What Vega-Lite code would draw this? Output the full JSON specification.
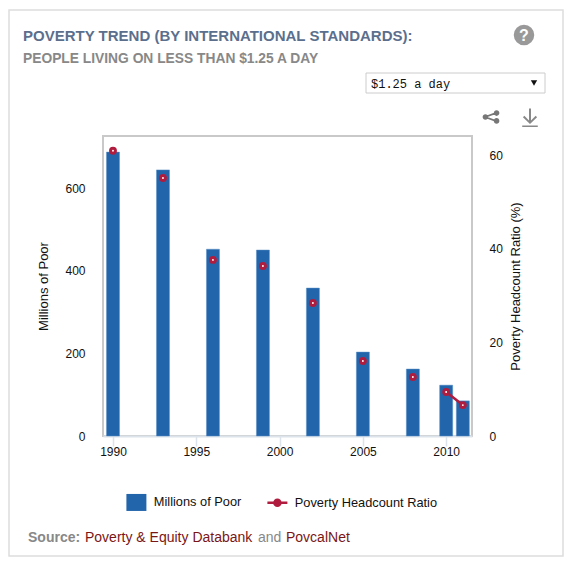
{"$schema":"https://vega.github.io/schema/vega-lite/v6.json","width":369,"height":300,"autosize":"none","padding":{"left":103,"top":136,"right":107,"bottom":131},"background":"white","config":{"font":"Liberation Sans","view":{"stroke":"#c9c9c9","strokeWidth":2}},"title":{"text":"POVERTY TREND (BY INTERNATIONAL STANDARDS):","subtitle":"PEOPLE LIVING ON LESS THAN $1.25 A DAY","anchor":"start","frame":"group","dx":-80,"offset":-57,"font":"Liberation Sans","fontSize":15,"fontWeight":"bold","color":"#5b6f8d","subtitleFont":"Liberation Sans","subtitleFontSize":13.8,"subtitleFontWeight":"bold","subtitleColor":"#888888","subtitlePadding":8},"datasets":{"poverty":[{"year":1990,"poor":687,"ratio":60.9},{"year":1993,"poor":644,"ratio":55.1},{"year":1996,"poor":452,"ratio":37.6},{"year":1999,"poor":450,"ratio":36.3},{"year":2002,"poor":358,"ratio":28.4},{"year":2005,"poor":203,"ratio":16.0},{"year":2008,"poor":162,"ratio":12.6},{"year":2010,"poor":123,"ratio":9.4},{"year":2011,"poor":85,"ratio":6.6}],"one":[{"item":1}]},"data":{"name":"poverty"},"resolve":{"scale":{"y":"independent"},"axis":{"y":"independent"}},"layer":[
{"data":{"name":"one"},"mark":{"type":"rect","x":-94,"y":-126,"x2":460,"y2":420,"fill":null,"fillOpacity":0,"stroke":"#dddddd","strokeWidth":1.5,"clip":false}},
{"mark":{"type":"bar","size":13,"stroke":"#5b8fc4","strokeWidth":0.5},"encoding":{"x":{"field":"year","type":"quantitative","scale":{"domain":[1989.4,2011.55],"nice":false,"zero":false,"padding":0},"axis":{"values":[1990,1995,2000,2005,2010],"format":"d","title":null,"grid":false,"domainColor":"#dde3ea","domainWidth":2,"tickColor":"#dde3ea","tickSize":10,"tickWidth":1.5,"labelColor":"#111111","labelFontSize":12,"labelPadding":0}},"y":{"field":"poor","type":"quantitative","scale":{"domain":[0,726],"nice":false},"axis":{"orient":"left","values":[0,200,400,600],"title":"Millions of Poor","titleFontWeight":"normal","titleFontSize":13,"titleColor":"#111111","titlePadding":14,"grid":false,"domain":false,"ticks":false,"labelColor":"#111111","labelFontSize":12,"labelPadding":18}},"color":{"datum":"Millions of Poor","type":"nominal","scale":{"domain":["Millions of Poor","Poverty Headcount Ratio"],"range":["#2265ab","#b01c3e"]},"legend":{"title":null,"orient":"none","legendX":27,"legendY":360,"direction":"horizontal","columns":2,"columnPadding":20,"symbolSize":400,"labelFontSize":12.8,"labelColor":"#111111","labelOffset":11,"encoding":{"symbols":{"shape":{"value":{"expr":"datum.value==='Millions of Poor' ? 'M-1,-0.85H1V0.85H-1Z' : 'M-1,0H-0.3M0.3,0H1M-0.3,0A0.3,0.3,0,1,1,0.3,0A0.3,0.3,0,1,1,-0.3,0Z'"}},"fill":{"value":{"expr":"datum.value==='Millions of Poor' ? '#2265ab' : 'white'"}},"stroke":{"value":{"expr":"datum.value==='Millions of Poor' ? '#2265ab' : '#b01c3e'"}},"strokeWidth":{"value":{"expr":"datum.value==='Millions of Poor' ? 0 : 2.5"}}}}}}}},
{"transform":[{"filter":"datum.year>=2010"}],"mark":{"type":"line","strokeWidth":2.5},"encoding":{"x":{"field":"year","type":"quantitative"},"y":{"field":"ratio","type":"quantitative","scale":{"domain":[0,64.06],"nice":false},"axis":{"orient":"right","values":[0,20,40,60],"title":"Poverty Headcount Ratio (%)","titleAngle":270,"titleFontWeight":"normal","titleFontSize":13,"titleColor":"#111111","titlePadding":20,"grid":false,"domain":false,"ticks":false,"labelColor":"#111111","labelFontSize":12,"labelPadding":17}},"color":{"datum":"Poverty Headcount Ratio","type":"nominal"}}},
{"mark":{"type":"point","filled":false,"fill":"white","fillOpacity":1,"opacity":1,"size":24,"strokeWidth":3,"stroke":"#b01c3e"},"encoding":{"x":{"field":"year","type":"quantitative"},"y":{"field":"ratio","type":"quantitative","scale":{"domain":[0,64.06],"nice":false},"axis":null}}},
{"data":{"name":"one"},"mark":{"type":"text","x":-75,"y":406,"align":"left","baseline":"alphabetic","text":"Source:","fontSize":14,"fontWeight":"bold","fill":"#888888"}},
{"data":{"name":"one"},"mark":{"type":"text","x":-18,"y":406,"align":"left","baseline":"alphabetic","text":"Poverty & Equity Databank","fontSize":14,"fill":"#7a1616"}},
{"data":{"name":"one"},"mark":{"type":"text","x":155,"y":406,"align":"left","baseline":"alphabetic","text":"and","fontSize":14,"fill":"#888888"}},
{"data":{"name":"one"},"mark":{"type":"text","x":183,"y":406,"align":"left","baseline":"alphabetic","text":"PovcalNet","fontSize":14,"fill":"#7a1616"}},
{"data":{"name":"one"},"mark":{"type":"rect","x":263,"y":-63,"x2":442,"y2":-43,"fill":"white","stroke":"#cccccc"}},
{"data":{"name":"one"},"mark":{"type":"text","x":268,"y":-48,"align":"left","baseline":"alphabetic","text":"$1.25 a day","font":"Liberation Mono","fontSize":12,"fill":"#111111"}},
{"data":{"name":"one"},"mark":{"type":"point","x":431,"y":-53,"shape":"triangle-down","size":40,"filled":true,"fill":"#111111","stroke":null,"opacity":1}},
{"data":{"name":"one"},"mark":{"type":"point","x":421,"y":-101,"shape":"circle","size":420,"filled":true,"fill":"#999999","stroke":null,"opacity":1}},
{"data":{"name":"one"},"mark":{"type":"text","x":421,"y":-95,"align":"center","baseline":"alphabetic","text":"?","fontSize":16,"fontWeight":"bold","fill":"white"}},
{"data":{"name":"one"},"mark":{"type":"point","x":388,"y":-19,"shape":"M0.5,-0.6A0.25,0.25,0,1,1,0.5,-0.1A0.25,0.25,0,1,1,0.5,-0.6ZM0.5,0.1A0.25,0.25,0,1,1,0.5,0.6A0.25,0.25,0,1,1,0.5,0.1ZM-0.5,-0.25A0.25,0.25,0,1,1,-0.5,0.25A0.25,0.25,0,1,1,-0.5,-0.25ZM-0.5,-0.1L0.45,-0.45L0.5,-0.3L-0.45,0.05ZM-0.45,-0.05L0.5,0.3L0.45,0.45L-0.5,0.1Z","size":500,"filled":true,"fill":"#777777","stroke":null,"opacity":1}},
{"data":{"name":"one"},"mark":{"type":"point","x":427,"y":-19,"shape":"M-0.07,-0.6H0.07V0.25L0.4,-0.08L0.5,0.02L0,0.5L-0.5,0.02L-0.4,-0.08L-0.07,0.25ZM-0.55,0.6H0.55V0.7H-0.55Z","size":800,"filled":true,"fill":"#888888","stroke":null,"opacity":1}}
]}
